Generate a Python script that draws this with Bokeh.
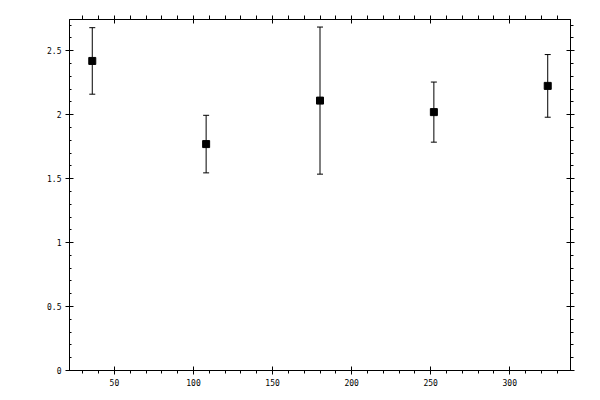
import numpy as np
from bokeh.plotting import figure
from bokeh.models import (ColumnDataSource, Range1d, LinearAxis, FixedTicker,
                          Whisker, TeeHead, CustomJSTickFormatter)
from bokeh.embed import file_html
from bokeh.resources import INLINE

# data
x_vals = [36, 108, 180, 252, 324]
y_vals = [2.42, 1.77, 2.11, 2.02, 2.225]
y_err = [0.26, 0.225, 0.575, 0.235, 0.245]
x_ticks = [50, 100, 150, 200, 250, 300]
x_minor = [30, 40, 60, 70, 80, 90, 110, 120, 130, 140, 160, 170, 180, 190,
           210, 220, 230, 240, 260, 270, 280, 290, 310, 320, 330]
y_ticks = [0, 0.5, 1, 1.5, 2, 2.5]
y_minor = [0.1, 0.2, 0.3, 0.4, 0.6, 0.7, 0.8, 0.9, 1.1, 1.2, 1.3, 1.4,
           1.6, 1.7, 1.8, 1.9, 2.1, 2.2, 2.3, 2.4, 2.6, 2.7]

upper = [y + e for y, e in zip(y_vals, y_err)]
lower = [y - e for y, e in zip(y_vals, y_err)]
src = ColumnDataSource(dict(x=x_vals, y=y_vals, upper=upper, lower=lower))

p = figure(width=592, height=392, output_backend="svg", toolbar_location=None,
           x_range=Range1d(21.6, 338.4), y_range=Range1d(0, 2.744),
           min_border_left=69, min_border_right=22, min_border_top=19,
           min_border_bottom=22)
p.xgrid.visible = False
p.ygrid.visible = False
p.outline_line_color = "black"
p.background_fill_color = "white"
p.border_fill_color = "white"

fmt = CustomJSTickFormatter(code="return String(tick);")

xt = FixedTicker(ticks=x_ticks, minor_ticks=x_minor)
yt = FixedTicker(ticks=y_ticks, minor_ticks=y_minor)

def style(ax, tin, tout, min_in, min_out, labels):
    ax.axis_line_color = "black"
    ax.axis_line_width = 1
    ax.major_tick_line_color = "black"
    ax.minor_tick_line_color = "black"
    ax.major_tick_in = tin
    ax.major_tick_out = tout
    ax.minor_tick_in = min_in
    ax.minor_tick_out = min_out
    ax.formatter = fmt
    ax.major_label_text_font = "DejaVu Sans Mono"
    ax.major_label_text_font_size = "8px"
    if labels:
        ax.major_label_text_color = "black"
        ax.major_label_standoff = 4
    else:
        ax.major_label_text_color = None
        ax.major_label_standoff = 0

bx = p.xaxis[0]
bx.ticker = xt
style(bx, 4, 4, 0, 3, True)
ly = p.yaxis[0]
ly.ticker = yt
style(ly, 4, 4, 2, 0, True)

tx = LinearAxis(ticker=FixedTicker(ticks=x_ticks, minor_ticks=x_minor))
style(tx, 4, 4, 0, 4, False)
p.add_layout(tx, "above")
ry = LinearAxis(ticker=FixedTicker(ticks=y_ticks, minor_ticks=y_minor))
style(ry, 4, 4, 0, 3, False)
p.add_layout(ry, "right")

w = Whisker(base="x", upper="upper", lower="lower", source=src,
            line_color="black", line_width=1,
            upper_head=TeeHead(size=6, line_color="black", line_width=1),
            lower_head=TeeHead(size=6, line_color="black", line_width=1))
p.add_layout(w)

p.scatter("x", "y", source=src, marker="square", size=7,
          fill_color="black", line_color="black")

open("out.html", "w").write(file_html(p, INLINE))
